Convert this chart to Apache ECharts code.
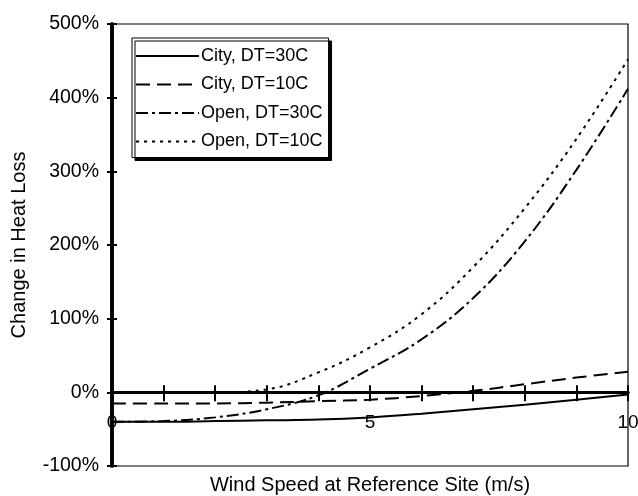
<!DOCTYPE html>
<html>
<head>
<meta charset="utf-8">
<script src="https://cdn.jsdelivr.net/npm/echarts@6/dist/echarts.min.js"></script>
<style>
html,body{margin:0;padding:0;background:#fff;}
#chart{width:638px;height:496px;}
</style>
</head>
<body>
<div id="chart"></div>
<script>
var windSpeeds = [0, 1, 2, 3, 4, 5, 6, 7, 8, 9, 10];
var cityDT30 = [-40, -40, -39, -38, -37, -34, -29, -23, -17, -10, -3];
var cityDT10 = [-15, -15, -15, -14, -12, -10, -5, 2, 11, 20, 28];
var openDT30 = [-40, -39, -34, -23, -4, 32, 72, 128, 205, 302, 412];
var openDT10 = [0, 0, 0, 4, 27, 61, 106, 170, 250, 344, 452];
var seriesNames = ['City, DT=30C', 'City, DT=10C', 'Open, DT=30C', 'Open, DT=10C'];
var yTicks = [-100, 0, 100, 200, 300, 400, 500];
var xLabelTicks = [0, 5, 10];

function pairs(vals) {
  return windSpeeds.map(function (x, i) { return [x, vals[i]]; });
}

var FONT = 'Liberation Sans, Arial, sans-serif';
var GRID_TOP = 24, GRID_BOTTOM = 30, H = 496;
var Y_MIN = -100, Y_MAX = 500;
var plotH = H - GRID_TOP - GRID_BOTTOM;
// distance from grid bottom up to the 0% line
var zeroOffset = -plotH * (0 - Y_MIN) / (Y_MAX - Y_MIN);

var chart = echarts.init(document.getElementById('chart'), null, {renderer: 'canvas'});

var lineTypes = ['solid', [14, 7], [12, 4, 3, 4], [3, 5]];
var dataSets = [cityDT30, cityDT10, openDT30, openDT10];

var series = dataSets.map(function (vals, i) {
  return {
    name: seriesNames[i],
    type: 'line',
    xAxisIndex: 0,
    yAxisIndex: 0,
    data: pairs(vals),
    smooth: 0.4,
    symbol: 'none',
    lineStyle: {color: '#000', width: 2, type: lineTypes[i]},
    itemStyle: {color: '#000'},
    z: 3
  };
});

var option = {
  backgroundColor: '#fff',
  animation: false,
  grid: {
    left: 112, right: 10, top: GRID_TOP, bottom: GRID_BOTTOM,
    outerBoundsMode: 'none', containLabel: false,
    show: true, borderColor: '#000', borderWidth: 1.2, backgroundColor: 'transparent'
  },
  legend: {
    orient: 'vertical',
    left: 132,
    top: 38,
    padding: [8, 6, 6, 3],
    itemWidth: 63,
    itemHeight: 20,
    itemGap: 8.5,
    itemStyle: {opacity: 0},
    lineStyle: {color: '#000', width: 2},
    backgroundColor: '#fff',
    borderColor: '#000',
    borderWidth: 1,
    shadowColor: '#000',
    shadowBlur: 0,
    shadowOffsetX: 3,
    shadowOffsetY: 3,
    textStyle: {color: '#000', fontSize: 18, fontFamily: FONT, lineHeight: 20, padding: [0, 0, 0, -3]},
    data: seriesNames
  },
  xAxis: [
    {
      type: 'value', min: 0, max: 10, interval: 1, position: 'bottom', offset: zeroOffset,
      axisLine: {show: true, onZero: false, lineStyle: {color: '#000', width: 3}},
      axisTick: {show: true, length: 9, lineStyle: {color: '#000', width: 2}},
      axisLabel: {
        color: '#000', fontSize: 19, fontFamily: FONT, margin: 21,
        formatter: function (v) { return xLabelTicks.indexOf(v) >= 0 ? String(v) : ''; }
      },
      splitLine: {show: false}
    },
    {
      type: 'value', min: 0, max: 10, interval: 1, position: 'bottom', offset: zeroOffset,
      axisLine: {show: true, onZero: false, lineStyle: {color: '#000', width: 3}},
      axisTick: {show: true, inside: true, length: 7, lineStyle: {color: '#000', width: 2}},
      axisLabel: {show: false},
      splitLine: {show: false}
    }
  ],
  yAxis: [
    {
      type: 'value', min: Y_MIN, max: Y_MAX, interval: 100, position: 'left', offset: 0,
      name: 'Change in Heat Loss', nameLocation: 'middle', nameGap: 83,
      nameTextStyle: {color: '#000', fontSize: 20, fontFamily: FONT},
      axisLine: {show: true, onZero: false, lineStyle: {color: '#000', width: 3.5}},
      axisTick: {show: true, length: 5, lineStyle: {color: '#000', width: 2}},
      axisLabel: {
        color: '#000', fontSize: 19.5, fontFamily: FONT, margin: 13,
        formatter: function (v) { return yTicks.indexOf(v) >= 0 ? v + '%' : ''; }
      },
      splitLine: {show: false}
    },
    {
      type: 'value', min: Y_MIN, max: Y_MAX, interval: 100, position: 'left', offset: 0,
      axisLine: {show: true, onZero: false, lineStyle: {color: '#000', width: 3.5}},
      axisTick: {show: true, inside: true, length: 5, lineStyle: {color: '#000', width: 2}},
      axisLabel: {show: false},
      splitLine: {show: false}
    }
  ],
  graphic: [
    {
      type: 'text', x: 370, y: 485,
      style: {text: 'Wind Speed at Reference Site (m/s)', fill: '#000', fontSize: 20, fontFamily: FONT,
              textAlign: 'center', textVerticalAlign: 'middle'}
    }
  ],
  series: series
};
chart.setOption(option);
</script>
</body>
</html>
